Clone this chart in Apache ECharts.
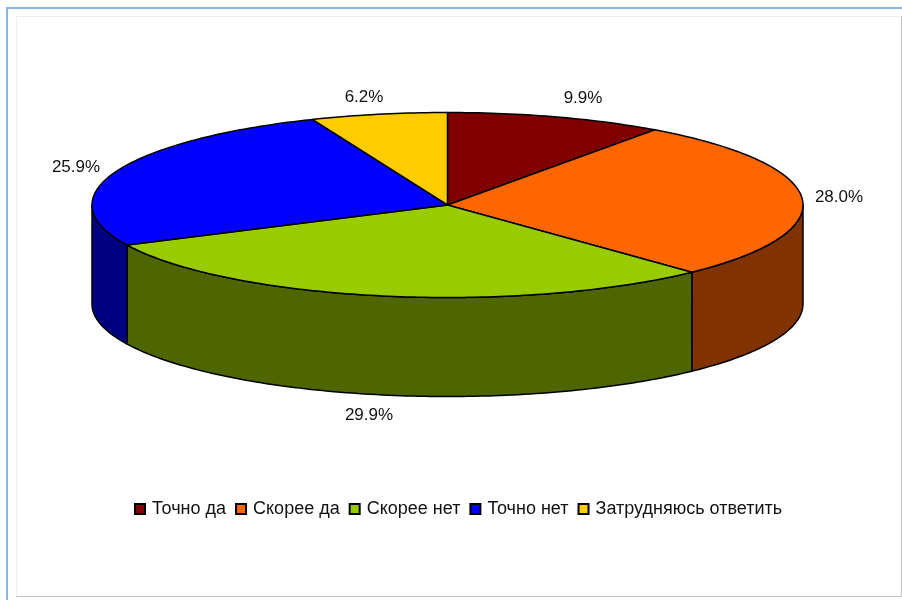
<!DOCTYPE html>
<html>
<head>
<meta charset="utf-8">
<style>
  html, body { margin: 0; padding: 0; background: #fff; }
  #chart { width: 902px; height: 600px; }
</style>
<script src="https://cdn.jsdelivr.net/npm/echarts@6/dist/echarts.min.js"></script>
</head>
<body>
<div id="chart"></div>
<script>
const categories = ["Точно да", "Скорее да", "Скорее нет", "Точно нет", "Затрудняюсь ответить"];
const shares = [9.9, 28.0, 29.9, 25.9, 6.2];
const topColors = ["#800000", "#ff6600", "#99cc00", "#0000ff", "#ffcc00"];
const sideColors = ["#400000", "#803300", "#4d6600", "#000080", "#806600"];
const labelSpots = [[583, 98], [839, 197], [369, 415], [76, 167], [364, 97]];

// геометрия диска
const cx = 447.5, cy = 205, rx = 355.5, ry = 92.5, depth = 99;
const total = shares.reduce((a, b) => a + b, 0);

function ellipsePoint(deg, dy) {
  const r = deg * Math.PI / 180;
  return [cx + rx * Math.sin(r), cy - ry * Math.cos(r) + (dy || 0)];
}

function arcPoints(from, to, dy) {
  const pts = [];
  for (let d = from; d < to; d += 1) pts.push(ellipsePoint(d, dy));
  pts.push(ellipsePoint(to, dy));
  return pts;
}

// углы секторов, считаем от 12 часов по часовой стрелке
const angles = [];
shares.reduce((sum, v) => {
  angles.push([sum / total * 360, (sum + v) / total * 360]);
  return sum + v;
}, 0);

const edge = { stroke: "#000", lineWidth: 1.5, lineJoin: "round" };

function renderSlice(i) {
  return function () {
    const from = angles[i][0], to = angles[i][1];
    const children = [];
    // боковая стенка видна только на нижней половине (90..270)
    const a = Math.max(from, 90), b = Math.min(to, 270);
    if (a < b) {
      const front = arcPoints(a, b, 0);
      const back = arcPoints(a, b, depth).reverse();
      children.push({
        type: "polygon",
        shape: { points: front.concat(back) },
        style: Object.assign({ fill: sideColors[i] }, edge)
      });
    }
    children.push({
      type: "polygon",
      shape: { points: [[cx, cy]].concat(arcPoints(from, to, 0)) },
      style: Object.assign({ fill: topColors[i] }, edge)
    });
    children.push({
      type: "text",
      style: {
        x: labelSpots[i][0],
        y: labelSpots[i][1],
        text: shares[i].toFixed(1) + "%",
        fill: "#111",
        font: "17px 'Liberation Sans'",
        align: "center",
        verticalAlign: "middle"
      }
    });
    return { type: "group", children: children };
  };
}

const chart = echarts.init(document.getElementById("chart"));

chart.setOption({
  animation: false,
  backgroundColor: "#fff",
  legend: {
    left: 134,
    top: 500,
    padding: 0,
    itemWidth: 10,
    itemHeight: 10,
    itemGap: 9,
    icon: "rect",
    data: categories,
    textStyle: { color: "#111", fontSize: 18, fontFamily: "Liberation Sans", padding: [0, 0, 0, 2] }
  },
  graphic: [
    { type: "polyline", silent: true, shape: { points: [[902, 8], [7, 8], [7, 600]] },
      style: { fill: null, stroke: "#8ab4e8", lineWidth: 2 } },
    { type: "polyline", silent: true, shape: { points: [[901, 16.5], [16.5, 16.5], [16.5, 596]] },
      style: { fill: null, stroke: "#eeeeee", lineWidth: 1 } },
    { type: "polyline", silent: true, shape: { points: [[16, 596.5], [901.5, 596.5], [901.5, 16]] },
      style: { fill: null, stroke: "#c0c0c0", lineWidth: 1 } }
  ],
  // сначала дальние секторы, потом ближние, чтобы стенки легли правильно
  series: categories.map((name, i) => ({
    name: name,
    type: "custom",
    coordinateSystem: "none",
    itemStyle: { color: topColors[i], borderColor: "#000", borderWidth: 1 },
    data: [shares[i]],
    renderItem: renderSlice(i)
  }))
});

window.onresize = () => {
  chart.resize();
};
</script>
</body>
</html>
